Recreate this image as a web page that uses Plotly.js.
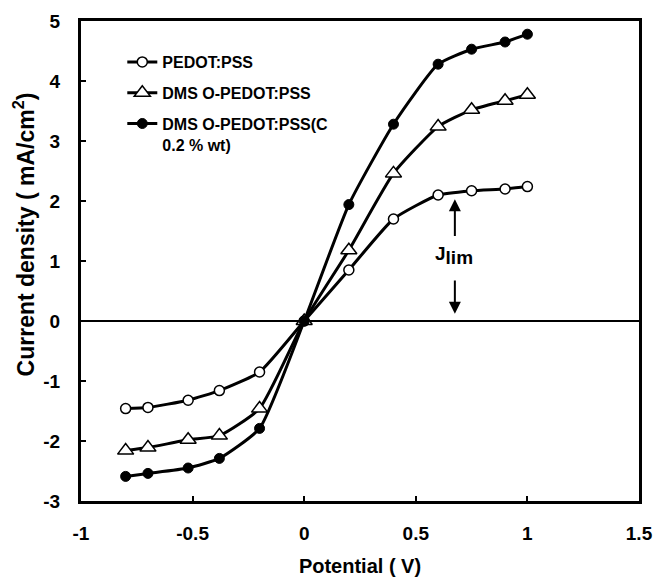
<!DOCTYPE html>
<html>
<head>
<meta charset="utf-8">
<script src="https://cdn.plot.ly/plotly-3.0.1.min.js"></script>
<style>html,body{margin:0;padding:0;background:#fff;}#chart{width:654px;height:577px;}</style>
</head>
<body>
<div id="chart"></div>
<script>
// Data
const potential = [-0.8, -0.7, -0.52, -0.38, -0.2, 0, 0.2, 0.4, 0.6, 0.75, 0.9, 1.0];
const pedotPss = [-1.46, -1.44, -1.32, -1.16, -0.85, 0, 0.85, 1.70, 2.10, 2.17, 2.20, 2.24];
const dmsoPedotPss = [-2.16, -2.11, -1.98, -1.91, -1.46, 0, 1.18, 2.46, 3.24, 3.52, 3.67, 3.77];
const dmsoPedotPssC = [-2.59, -2.54, -2.45, -2.29, -1.79, 0, 1.94, 3.28, 4.28, 4.53, 4.65, 4.78];
const seriesNames = ["PEDOT:PSS", "DMS O-PEDOT:PSS", "DMS O-PEDOT:PSS(C<br>0.2 % wt)"];
const xTickVals = [-1, -0.5, 0, 0.5, 1, 1.5];
const xTickText = ["-1", "-0.5", "0", "0.5", "1", "1.5"];
const yTickVals = [-3, -2, -1, 0, 1, 2, 3, 4, 5];
const yTickText = ["-3", "-2", "-1", "0", "1", "2", "3", "4", "5"];
const xTitle = "Potential ( V)";
const yTitle = "Current density ( mA/cm<sup>2</sup>)";
const jlimX = 0.675;
const jlimUp = [1.39, 2.03];   // tail, head
const jlimDown = [0.70, 0.12]; // tail, head

const FONT = "Liberation Sans, Arial, sans-serif";
const lineStyle = {color: "#000", width: 3, shape: "spline", smoothing: 0.5};

const traces = [
  {x: potential, y: pedotPss, name: seriesNames[0], legendgroup: "a", mode: "lines+markers",
   line: lineStyle, marker: {symbol: "circle", size: 10, color: "#fff", line: {color: "#000", width: 1.5}}},
  {x: potential, y: dmsoPedotPss, name: seriesNames[1], legendgroup: "b", mode: "lines+markers",
   line: lineStyle, marker: {symbol: "triangle-up", size: 14, color: "#fff", line: {color: "#000", width: 1.5}}},
  {x: potential, y: dmsoPedotPssC, name: seriesNames[2], legendgroup: "c", mode: "lines+markers",
   line: lineStyle, marker: {symbol: "circle", size: 10, color: "#000", line: {color: "#000", width: 1}}}
];

const axisCommon = {
  showline: true, linewidth: 3, linecolor: "#000", mirror: true,
  ticks: "inside", ticklen: 5, tickwidth: 2, tickcolor: "#000",
  showgrid: false, tickfont: {family: FONT, size: 19, color: "#000", weight: "bold"}
};

const layout = {
  width: 654, height: 577,
  margin: {l: 81, r: 15, t: 21, b: 76},
  paper_bgcolor: "#fff", plot_bgcolor: "#fff",
  font: {family: FONT, color: "#000"},
  showlegend: true,
  legend: {x: 0.074, y: 0.95, xanchor: "left", yanchor: "top", bgcolor: "rgba(0,0,0,0)",
           font: {family: FONT, size: 16, color: "#000", weight: "bold"}, valign: "top",
           tracegroupgap: 7},
  xaxis: Object.assign({}, axisCommon, {
    range: [-1, 1.5], tickvals: xTickVals, ticktext: xTickText, zeroline: false,
    ticklabelstandoff: 13,
    title: {text: xTitle, font: {family: FONT, size: 20, color: "#000", weight: "bold"}, standoff: 20}
  }),
  yaxis: Object.assign({}, axisCommon, {
    range: [-3, 5], tickvals: yTickVals, ticktext: yTickText,
    zeroline: true, zerolinecolor: "#000", zerolinewidth: 1.5,
    ticklabelstandoff: 14,
    title: {text: ""}
  }),
  annotations: [
    {x: -0.1016, y: 0.556, xref: "paper", yref: "paper", showarrow: false, textangle: -90,
     xanchor: "center", yanchor: "middle", text: yTitle,
     font: {family: FONT, size: 23, color: "#000", weight: "bold"}},
    {x: jlimX, y: jlimUp[1], ax: jlimX, ay: jlimUp[0], xref: "x", yref: "y", axref: "x", ayref: "y",
     showarrow: true, arrowhead: 2, arrowsize: 1.2, arrowwidth: 2, arrowcolor: "#000", text: ""},
    {x: jlimX, y: jlimDown[1], ax: jlimX, ay: jlimDown[0], xref: "x", yref: "y", axref: "x", ayref: "y",
     showarrow: true, arrowhead: 2, arrowsize: 1.2, arrowwidth: 2, arrowcolor: "#000", text: ""},
    {x: 0.67, y: 1.1, xref: "x", yref: "y", showarrow: false,
     text: "J<sub><span style=\"font-size:19px\">lim</span></sub>",
     font: {family: FONT, size: 19, color: "#000", weight: "bold"}}
  ]
};

Plotly.newPlot("chart", traces, layout, {displayModeBar: false, staticPlot: true});
</script>
</body>
</html>
